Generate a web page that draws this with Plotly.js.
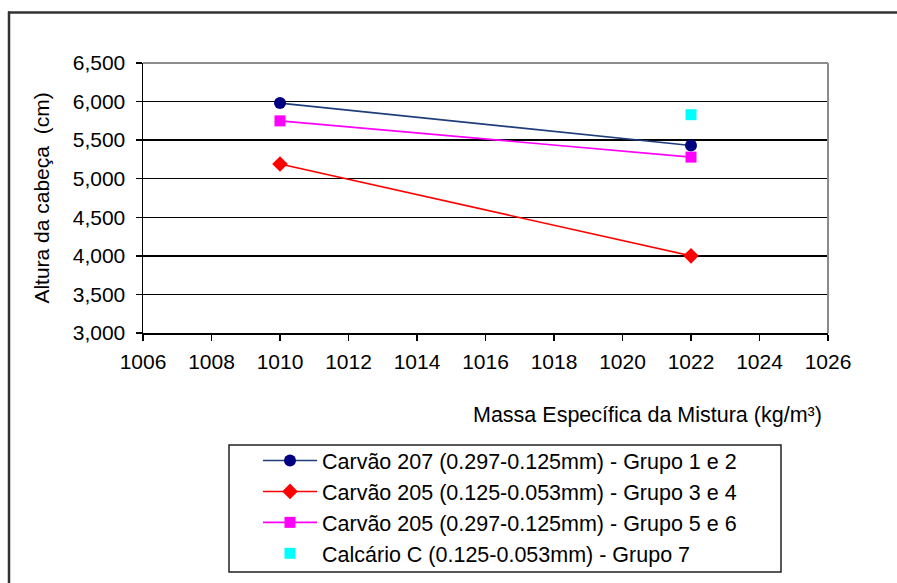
<!DOCTYPE html>
<html>
<head>
<meta charset="utf-8">
<script src="https://cdn.plot.ly/plotly-3.0.1.min.js"></script>
<style>
  html, body { margin: 0; padding: 0; background: #ffffff; overflow: hidden; }
  #chart { width: 897px; height: 583px; }
</style>
</head>
<body>
<div id="chart"></div>
<script>
// Mixture density (kg/m³) against head height (cm) for each test group
const seriesNames = [
  'Carvão 207 (0.297-0.125mm) - Grupo 1 e 2',
  'Carvão 205 (0.125-0.053mm) - Grupo 3 e 4',
  'Carvão 205 (0.297-0.125mm) - Grupo 5 e 6',
  'Calcário C (0.125-0.053mm) - Grupo 7'
];
const carvao207_x = [1010, 1022];
const carvao207_y = [5980, 5430];
const carvao205fino_x = [1010, 1022];
const carvao205fino_y = [5190, 4000];
const carvao205grosso_x = [1010, 1022];
const carvao205grosso_y = [5750, 5280];
const calcario_x = [1022];
const calcario_y = [5830];

const xTitle = 'Massa Específica da Mistura (kg/m³)';
const yTitle = 'Altura da cabeça  (cm)';

const FONT = '"Liberation Sans", Arial, sans-serif';

// plot area in pixels
const W = 897, H = 583;
const L = 143, R = 828, T = 63, B = 333;
const px = x => (x - L) / (R - L);
const py = y => (B - y) / (B - T);

const traces = [
  {
    x: carvao207_x, y: carvao207_y, name: seriesNames[0],
    type: 'scatter', mode: 'lines+markers',
    line: { color: '#1f3d7a', width: 1.6 },
    marker: { symbol: 'circle', size: 12, color: '#000080' }
  },
  {
    x: carvao205fino_x, y: carvao205fino_y, name: seriesNames[1],
    type: 'scatter', mode: 'lines+markers',
    line: { color: '#ff0000', width: 1.6 },
    marker: { symbol: 'diamond', size: 12, color: '#ff0000' }
  },
  {
    x: carvao205grosso_x, y: carvao205grosso_y, name: seriesNames[2],
    type: 'scatter', mode: 'lines+markers',
    line: { color: '#ff00ff', width: 1.6 },
    marker: { symbol: 'square', size: 11, color: '#ff00ff' }
  },
  {
    x: calcario_x, y: calcario_y, name: seriesNames[3],
    type: 'scatter', mode: 'markers',
    marker: { symbol: 'square', size: 11, color: '#00ffff' }
  }
];

const layout = {
  width: W, height: H,
  margin: { l: L, r: W - R, t: T, b: H - B, autoexpand: false },
  paper_bgcolor: '#ffffff',
  plot_bgcolor: '#ffffff',
  font: { family: FONT, size: 20, color: '#000000' },
  showlegend: true,
  legend: {
    x: px(258), xanchor: 'left',
    y: py(440), yanchor: 'top',
    bgcolor: 'rgba(0,0,0,0)',
    borderwidth: 0,
    itemwidth: 54,
    font: { family: FONT, size: 21.5, color: '#000000' },
    traceorder: 'normal'
  },
  xaxis: {
    range: [1006, 1026],
    tickmode: 'linear', tick0: 1006, dtick: 2,
    ticks: 'outside', ticklen: 6, tickwidth: 1.5, tickcolor: '#000000',
    showline: true, linecolor: '#000000', linewidth: 1.5,
    showgrid: false, zeroline: false,
    tickfont: { family: FONT, size: 21, color: '#000000' },
    ticklabelstandoff: 3,
    fixedrange: true
  },
  yaxis: {
    range: [3000, 6500],
    tickmode: 'linear', tick0: 3000, dtick: 500,
    tickformat: ',d',
    ticks: 'outside', ticklen: 6, tickwidth: 1.5, tickcolor: '#000000',
    showline: true, linecolor: '#000000', linewidth: 1.5,
    showgrid: true, gridcolor: '#000000', gridwidth: 1.5,
    zeroline: false,
    tickfont: { family: FONT, size: 21, color: '#000000' },
    ticklabelstandoff: 6,
    title: { text: yTitle, font: { family: FONT, size: 21, color: '#000000' }, standoff: 17 },
    fixedrange: true
  },
  annotations: [
    {
      text: xTitle, showarrow: false,
      xref: 'paper', yref: 'paper',
      x: px(824), xanchor: 'right',
      y: py(415), yanchor: 'middle',
      font: { family: FONT, size: 21.5, color: '#000000' }
    }
  ],
  shapes: [
    // plot area frame (top and right edges)
    { type: 'line', xref: 'paper', yref: 'paper', x0: 0, x1: 1, y0: 1, y1: 1,
      line: { color: '#8c8c8c', width: 2 }, layer: 'above' },
    { type: 'line', xref: 'paper', yref: 'paper', x0: 1, x1: 1, y0: 0, y1: 1,
      line: { color: '#8c8c8c', width: 2 }, layer: 'above' },
    // chart frame: left and top edges (the rest runs past the page)
    { type: 'line', xref: 'paper', yref: 'paper',
      x0: px(9), x1: px(9), y0: py(583), y1: py(11.5),
      line: { color: '#333333', width: 2.5 }, layer: 'below' },
    { type: 'line', xref: 'paper', yref: 'paper',
      x0: px(8), x1: px(897), y0: py(12.5), y1: py(12.5),
      line: { color: '#333333', width: 2.5 }, layer: 'below' },
    // legend frame
    { type: 'rect', xref: 'paper', yref: 'paper',
      x0: px(229), x1: px(781), y0: py(572), y1: py(445),
      line: { color: '#222222', width: 1.5 }, layer: 'below' }
  ]
};

Plotly.newPlot('chart', traces, layout, { displayModeBar: false, staticPlot: true });
</script>
</body>
</html>
